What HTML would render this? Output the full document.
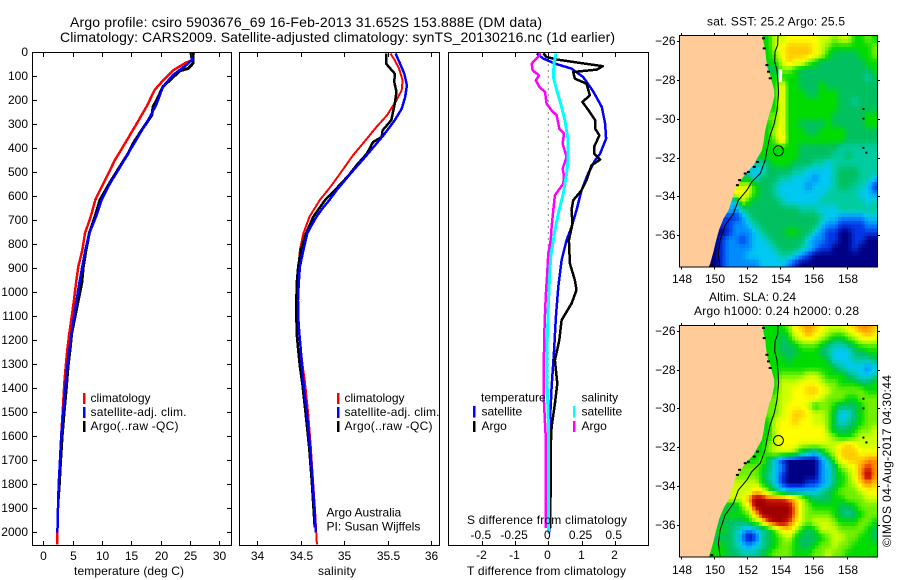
<!DOCTYPE html>
<html lang="en">
<head>
<meta charset="utf-8">
<title>Argo profile csiro 5903676_69</title>
<style>
html,body{margin:0;padding:0;background:#fff;}
svg{display:block;}
text{font-family:"Liberation Sans",Arial,sans-serif;font-size:12px;fill:#000;}
.t14{font-size:14px;}
</style>
</head>
<body>
<svg id="chart" xmlns="http://www.w3.org/2000/svg" width="900" height="580" viewBox="0 0 900 580">
  <defs>
    <clipPath id="clip-sst"><rect x="679.5" y="35.5" width="198" height="231.5"/></clipPath>
    <clipPath id="clip-sla"><rect x="679.5" y="325.5" width="198" height="231.5"/></clipPath>
    <clipPath id="clip-p1"><rect x="32.5" y="52.5" width="199" height="493"/></clipPath>
    <clipPath id="clip-p2"><rect x="239.5" y="52.5" width="200" height="493"/></clipPath>
    <clipPath id="clip-p3"><rect x="448.5" y="52.5" width="200" height="493"/></clipPath>
  </defs>
  <rect x="0" y="0" width="900" height="580" fill="#fff"/>

  <text class="t14" x="70" y="27" textLength="472">Argo profile: csiro 5903676_69 16-Feb-2013 31.652S 153.888E (DM data)</text>
  <text class="t14" x="60" y="42" textLength="555">Climatology: CARS2009. Satellite-adjusted climatology: synTS_20130216.nc (1d earlier)</text>

  <g id="maps"></g>
  <g id="profiles"></g>
  <g id="axes"></g>

  <text x="74" y="575" textLength="110">temperature (deg C)</text>
  <text x="318" y="575" textLength="38">salinity</text>
  <text x="467" y="575" textLength="159">T difference from climatology</text>
  <text x="467" y="524" textLength="160">S difference from climatology</text>

  <g>
    <rect x="83" y="393" width="2.5" height="11" fill="#ff0000"/>
    <rect x="83" y="407" width="2.5" height="11" fill="#0000ff"/>
    <rect x="83" y="421" width="2.5" height="11" fill="#000"/>
    <text x="90.5" y="402">climatology</text>
    <text x="90.5" y="416" textLength="96">satellite-adj. clim.</text>
    <text x="90.5" y="430" textLength="88">Argo(..raw -QC)</text>
  </g>
  <g>
    <rect x="337" y="393" width="2.5" height="11" fill="#ff0000"/>
    <rect x="337" y="407" width="2.5" height="11" fill="#0000ff"/>
    <rect x="337" y="421" width="2.5" height="11" fill="#000"/>
    <text x="344.5" y="402">climatology</text>
    <text x="344.5" y="416" textLength="95">satellite-adj. clim.</text>
    <text x="344.5" y="430" textLength="88">Argo(..raw -QC)</text>
  </g>
  <g>
    <text x="481" y="401.5">temperature</text>
    <rect x="473" y="406" width="2.5" height="11.5" fill="#0000ff"/>
    <rect x="473" y="421" width="2.5" height="11" fill="#000"/>
    <text x="481.5" y="415.5">satellite</text>
    <text x="481.5" y="430">Argo</text>
    <text x="581.5" y="401.5">salinity</text>
    <rect x="573" y="406" width="2.5" height="11.5" fill="#00ffff"/>
    <rect x="573" y="421" width="2.5" height="11" fill="#ff00ff"/>
    <text x="581.5" y="415.5">satellite</text>
    <text x="581.5" y="430">Argo</text>
  </g>

  <text x="326.5" y="516.5">Argo Australia</text>
  <text x="326.5" y="530.5">PI: Susan Wijffels</text>

  <text x="707" y="25.5" textLength="138">sat. SST: 25.2  Argo: 25.5</text>
  <text x="709" y="301" textLength="87">Altim. SLA: 0.24</text>
  <text x="694" y="315" textLength="165">Argo h1000: 0.24 h2000: 0.28</text>
  <text transform="translate(891,547) rotate(-90)" x="0" y="0" textLength="172">©IMOS 04-Aug-2017 04:30:44</text>
</svg>

<script>
// ---------- profile data (depth in dbar, value in physical units) ----------
const tempClimDepth = [0,32,46,74,115,156,226,310,380,449,519,615,685,754,824,893,963,1032,1102,1171,1240,1310,1379,1500,1600,1700,1800,1900,2000,2050];
const tempClimValues = [25.7,25.3,24.1,22.2,20.5,19,17.6,15.6,13.9,12.2,10.8,8.86,8.07,7.1,6.65,5.97,5.57,5.23,4.83,4.43,4.09,3.81,3.58,3.3,3.05,2.85,2.62,2.5,2.4,2.35];
const tempSatDepth = [0,32,53,95,143,215,268,337,420,490,545,615,685,754,824,893,963,1032,1102,1171,1240,1310,1379,1500,1600,1700,1800,1900,2000];
const tempSatValues = [25.1,25.3,24.4,22.1,20.4,19.3,18.2,16.5,14.5,12.8,11.4,9.94,8.98,7.84,7.16,6.65,6.14,5.68,5.23,4.83,4.43,4.09,3.81,3.4,3.07,2.85,2.62,2.5,2.4];
const tempArgoDepth = [0,46,67,77,108,143,201,226,261,323,380,420,490,545,615,685,754,824,893,963,1032,1102,1171,1240,1310,1379,1500,1600,1700,1800,1860];
const tempArgoValues = [25.5,25.5,24.7,23.3,21.9,20.4,19.3,18.7,18.5,16.8,15.3,14.5,12.7,11.3,9.66,8.81,7.84,7.27,6.82,6.54,5.97,5.4,4.83,4.55,4.2,3.98,3.55,3.2,2.95,2.72,2.55];

const salClimDepth = [5,33,68,117,158,200,263,311,360,429,506,561,615,685,754,824,900,1000,1100,1200,1300,1379,1504,1644,1783,1921,2050];
const salClimValues = [35.53,35.58,35.63,35.67,35.66,35.6,35.49,35.37,35.26,35.1,34.95,34.84,34.72,34.6,34.53,34.49,34.47,34.46,34.465,34.49,34.52,34.55,34.585,34.615,34.64,34.665,34.685];
const salSatDepth = [5,47,89,137,186,235,283,346,436,506,575,615,650,685,720,754,824,893,963,1032,1102,1171,1240,1310,1379,1504,1644,1783,1921,2000];
const salSatValues = [35.59,35.64,35.69,35.72,35.7,35.66,35.58,35.45,35.24,35.07,34.91,34.83,34.75,34.68,34.625,34.575,34.53,34.49,34.476,34.468,34.47,34.483,34.5,34.514,34.53,34.57,34.606,34.636,34.66,34.672];
const salArgoDepth = [5,47,89,124,165,214,283,325,353,374,422,471,513,575,615,685,754,824,893,963,1032,1102,1171,1240,1310,1379,1504,1644,1783,1921,1980];
const salArgoValues = [35.48,35.48,35.58,35.575,35.6,35.58,35.54,35.44,35.43,35.33,35.26,35.14,35.05,34.89,34.78,34.644,34.56,34.5,34.47,34.453,34.449,34.449,34.453,34.47,34.49,34.517,34.555,34.595,34.625,34.65,34.66];

const dTSatDepth = [5,26,47,68,103,165,228,297,360,422,450,506,575,658,728,783,866,977,1102,1255,1394,1533,1616,1833,2000];
const dTSatValues = [-.35,-.15,.2,.7,1.05,1.36,1.61,1.71,1.74,1.56,1.41,1.2,1,.85,.7,.55,.4,.3,.23,.17,.1,.05,.05,.05,.03];
const dTArgoDepth = [5,19,30,44,58,72,82,110,131,179,207,249,283,318,346,394,422,447,471,533,575,617,658,714,783,880,950,991,1047,1116,1200,1283,1380,1464,1561,1616,1833,1985];
const dTArgoValues = [-.15,-.05,.25,.95,1.64,1.46,.75,.8,1.15,1.25,1.03,1.25,1.41,1.41,1.54,1.38,1.38,1.56,1.3,1.15,1,.75,.7,.73,.62,.65,.8,.85,.7,.4,.33,.2,.27,.2,.1,.08,.07,.05];
const dSSatDepth = [5,47,103,158,214,283,367,436,506,589,672,742,783,852,950,1061,1200,1394,1533,1616,2000];
const dSSatValues = [.058,.043,.038,.063,.093,.125,.15,.15,.138,.113,.075,.05,.038,.018,.008,0,-.008,-.008,0,.003,.003];
const dSArgoDepth = [5,26,47,75,96,117,144,165,214,242,263,318,339,381,436,485,512,547,596,658,728,783,838,922,1005,1130,1269,1450,1561,1616,1983];
const dSArgoValues = [-.058,-.088,-.125,-.118,-.07,-.093,-.068,-.025,-.013,.025,.063,.083,.118,.108,.138,.108,.118,.113,.05,.038,.025,.018,0,-.008,-.018,-.028,-.033,-.033,-.023,-.018,-.018];

// ---------- tick values and labels ----------
const depthTicks = [0,100,200,300,400,500,600,700,800,900,1000,1100,1200,1300,1400,1500,1600,1700,1800,1900,2000];
const tempTicks = [0,5,10,15,20,25,30];
const salTicks = [34,34.5,35,35.5,36];
const dTTicks = [-2,-1,0,1,2];
const dSTickLabels = ["-0.5","-0.25","0","0.25","0.5"];
const dSTicks = [-0.5,-0.25,0,0.25,0.5];
const lonTicks = [148,150,152,154,156,158];
const latTicks = [-26,-28,-30,-32,-34,-36];

// ---------- gridded map fields, one hex digit per 0.4 degree cell, right-aligned to the east edge ----------
const sstRows = [
"68899999887886676","689aaaa9876666667","679aaaa9865555667","668a9976555555566",
"5776555555555556","6666555555555545","6966555655555555","6966655666555555",
"6966666666554555","6966666666555555","7966666665555566","67966555565555566",
"68966655666655555","67a66666666655555","666666555555444444","666666555554454444",
"4456665554434444444","3355554433334555444","53555443332334555443","886554333323334554431",
"986554333333344444332","3865555433333444444434","32455555555444333444444","11245555555555433222233",
"112234555555555322111122","012223455566553211001111","0122123345555532211001100","0122223334555432110001000",
"0122233333443210000000000","0122222333321000000000000"];
const slaRows = [
"66679aba98889abba","665689a98766789a9","6556777654456777","6555666543335566",
"6656666653334445","6666666665433323","6777788766654334","6888999877666556",
"68899aa987777766","7889999877766777","7899986776555677","789aa98875335677",
"6899a998875345677","68999999975556778","68999999987667888","6789998888889a9888",
"678887543578aaa999","67531000002479aaabb","7653200000235789bcb","7643100000235679bdb",
"8653100011235678aba","8a975433333456777899","8bddcccba865556677788","579ddddddb876666556777",
"6667adddddb877776545677","555679cddca878887666776","6543234579a8656888777765","554201456786555678877665",
"654323456776556778776666","655444567776667787766666"];
const mapPaletteRgb = [[0,0,135],[0,56,232],[0,140,255],[0,200,240],[0,204,160],[0,192,96],[0,220,0],[112,240,0],[204,255,0],[255,255,0],[255,204,0],[255,144,0],[216,32,0],[160,0,0]];

const coastLon = [152.93,152.99,153.09,153.15,153.23,153.39,153.49,153.64,153.64,153.49,153.29,153.09,152.99,152.89,152.59,152.38,151.98,151.68,151.27,151.07,150.87,150.57,150.32,150.12,149.96,149.76,149.66];
const coastLat = [-25.7,-26.12,-26.46,-26.98,-27.41,-27.75,-28.1,-28.53,-28.84,-29.38,-29.9,-30.59,-31.19,-31.62,-32.05,-32.39,-32.74,-33.08,-33.59,-34.2,-34.71,-35.14,-35.66,-36.26,-36.86,-37.46,-37.65];
const isobathLon = [153.86,153.84,153.68,153.66,153.8,153.86,153.9,153.8,153.64,153.39,153.19,153.09,152.79,152.28,151.98,151.47,151.17,150.67,150.36,150.26,150.36];
const isobathLat = [-25.7,-26.2,-26.55,-27.07,-27.5,-28.1,-28.7,-29.56,-30.24,-30.85,-31.62,-32.13,-32.82,-33.25,-33.68,-34.2,-34.88,-35.48,-36.26,-36.94,-37.65];
const rockyCoastLon = [152.99,153.03,153.19,153.29,153.39,152.63,152.42,152.08,151.88,151.54,151.41,149.86];
const rockyCoastLat = [-25.86,-26.38,-27.24,-27.58,-27.92,-32.22,-32.48,-32.74,-32.82,-33.16,-33.42,-37.55];
const islandLon = [159.02,159.02,159.02,159.2];
const islandLat = [-29.5,-30,-31.5,-31.75];
const profileLon = 153.888;
const profileLat = -31.652;

// ---------- axis functions ----------
const yDepth = d => 52.3 + d * 0.24;
const xTemp = t => 43.3 + t * 5.87;
const xSal = s => 257.3 + (s - 34) * 87;
const xDT = v => 548.3 + v * 33.2;
const xDS = v => 548.3 + v * 132.8;
const xLon = lon => 681 + (lon - 148) * 16.55;
const ySst = lat => 41 + (-26 - lat) * 19.43;
const ySla = lat => 330.7 + (-26 - lat) * 19.43;

const NS = "http://www.w3.org/2000/svg";
function make(tag, parent, attrs) {
  const el = document.createElementNS(NS, tag);
  for (const k in attrs) el.setAttribute(k, attrs[k]);
  parent.appendChild(el);
  return el;
}
const profiles = document.getElementById("profiles");
const axes = document.getElementById("axes");
const maps = document.getElementById("maps");

// ---------- profile lines ----------
function drawLine(depths, values, xFn, color, width, clip, name) {
  const pts = depths.map((d, i) => xFn(values[i]).toFixed(1) + "," + yDepth(d).toFixed(1)).join(" ");
  const el = make("polyline", profiles, {points: pts, fill: "none", stroke: color, "stroke-width": width, "stroke-linejoin": "round", "shape-rendering": "crispEdges", "clip-path": "url(#" + clip + ")"});
  
  
}
const zeroLine = make("line", profiles, {x1: xDT(0), x2: xDT(0), y1: 52.5, y2: 545, stroke: "#000", "stroke-width": 1, "stroke-dasharray": "1 5"});



drawLine(tempClimDepth, tempClimValues, xTemp, "#ff0000", 2.5, "clip-p1", "temperature-climatology-line");
drawLine(tempArgoDepth, tempArgoValues, xTemp, "#000000", 3, "clip-p1", "temperature-argo-line");
drawLine(tempSatDepth, tempSatValues, xTemp, "#0000ff", 2.5, "clip-p1", "temperature-satellite-line");
drawLine(salClimDepth, salClimValues, xSal, "#ff0000", 2, "clip-p2", "salinity-climatology-line");
drawLine(salArgoDepth, salArgoValues, xSal, "#000000", 2.5, "clip-p2", "salinity-argo-line");
drawLine(salSatDepth, salSatValues, xSal, "#0000ff", 2.5, "clip-p2", "salinity-satellite-line");
drawLine(dTSatDepth, dTSatValues, xDT, "#0000ff", 2.5, "clip-p3", "t-difference-satellite-line");
drawLine(dTArgoDepth, dTArgoValues, xDT, "#000000", 2.5, "clip-p3", "t-difference-argo-line");
drawLine(dSArgoDepth, dSArgoValues, xDS, "#ff00ff", 2.5, "clip-p3", "s-difference-argo-line");
drawLine(dSSatDepth, dSSatValues, xDS, "#00ffff", 3, "clip-p3", "s-difference-satellite-line");

// ---------- axes ----------
function frame(x, y, w, h, name) {
  const el = make("rect", axes, {x: x, y: y, width: w, height: h, fill: "none", stroke: "#000", "stroke-width": 1, "shape-rendering": "crispEdges"});
  
  
}
function tick(x1, y1, x2, y2, name) {
  const el = make("line", axes, {x1: x1, y1: y1, x2: x2, y2: y2, stroke: "#000", "stroke-width": 1, "shape-rendering": "crispEdges"});
  
  
}
function label(x, y, str, anchor, name) {
  const el = make("text", axes, {x: x, y: y, "text-anchor": anchor});
  el.textContent = str;
  
  
}
frame(32.5, 52.5, 199, 493, "temperature-panel-frame");
frame(239.5, 52.5, 200, 493, "salinity-panel-frame");
frame(448.5, 52.5, 200, 493, "difference-panel-frame");

depthTicks.forEach(d => {
  const y = Math.round(yDepth(d)) + 0.5;
  tick(32.5, y, 37, y, "depth-tick-left");
  tick(227, y, 231.5, y, "depth-tick-right");
  label(28, y + 3.5, String(d), "end", "depth-tick-label");
});
tempTicks.forEach(t => {
  const x = Math.round(xTemp(t)) + 0.5;
  tick(x, 52.5, x, 57, "temperature-tick-top");
  tick(x, 541, x, 545.5, "temperature-tick-bottom");
  label(x, 560, String(t), "middle", "temperature-tick-label");
});
salTicks.forEach(s => {
  const x = Math.round(xSal(s)) + 0.5;
  tick(x, 52.5, x, 57, "salinity-tick-top");
  tick(x, 541, x, 545.5, "salinity-tick-bottom");
  label(x, 560, String(s), "middle", "salinity-tick-label");
});
dTTicks.forEach(v => {
  const x = Math.round(xDT(v)) + 0.5;
  tick(x, 52.5, x, 57, "t-difference-tick-top");
  tick(x, 541, x, 545.5, "t-difference-tick-bottom");
  label(x - 1, 559, String(v), "middle", "t-difference-tick-label");
});
dSTicks.forEach((v, i) => {
  label(xDS(v) - 1, 539, dSTickLabels[i], "middle", "s-difference-tick-label");
});

// ---------- maps ----------
function fieldGrid(rows) {
  return rows.map(row => {
    return row.padStart(30, row[0]).split("").map(ch => parseInt(ch, 16));
  });
}
function sampleField(grid, u, v) {
  const c0 = Math.max(0, Math.min(29, Math.floor(u)));
  const c1 = Math.min(29, c0 + 1);
  const r0 = Math.max(0, Math.min(29, Math.floor(v)));
  const r1 = Math.min(29, r0 + 1);
  const fu = Math.max(0, Math.min(1, u - c0));
  const fv = Math.max(0, Math.min(1, v - r0));
  const top = grid[r0][c0] * (1 - fu) + grid[r0][c1] * fu;
  const bot = grid[r1][c0] * (1 - fu) + grid[r1][c1] * fu;
  return top * (1 - fv) + bot * fv;
}
function colorFor(value) {
  const i = Math.max(0, Math.min(12, Math.floor(value)));
  const f = Math.max(0, Math.min(1, value - i));
  const a = mapPaletteRgb[i];
  const b = mapPaletteRgb[i + 1];
  return "rgb(" + a.map((ch, k) => Math.round(ch + (b[k] - ch) * f)).join(",") + ")";
}
function drawMap(rows, yFn, top, clip, prefix) {
  const g = make("g", maps, {"clip-path": "url(#" + clip + ")"});
  
  
  const grid = fieldGrid(rows);
  for (let sr = 0; sr < 60; sr++) {
    for (let sc = 0; sc < 60; sc++) {
      const lon0 = 147.9 + 0.2 * sc;
      const lat0 = -25.7 - 0.199 * sr;
      const x0 = xLon(lon0);
      const y0 = yFn(lat0);
      const value = sampleField(grid, (sc + 0.5) / 2 - 0.5, (sr + 0.5) / 2 - 0.5);
      const cell = make("rect", g, {x: x0.toFixed(2), y: y0.toFixed(2), width: (xLon(lon0 + 0.2) - x0 + 0.4).toFixed(2), height: (yFn(lat0 - 0.199) - y0 + 0.4).toFixed(2), fill: colorFor(value), "shape-rendering": "crispEdges"});
      
      
    }
  }
  const pts = coastLon.map((lon, i) => xLon(lon).toFixed(1) + "," + yFn(coastLat[i]).toFixed(1));
  const landPts = pts.concat([xLon(147) + "," + yFn(-37.65), xLon(147) + "," + yFn(-25.7)]).join(" ");
  const land = make("polygon", g, {points: landPts, fill: "#ffcc99", stroke: "none"});
  
  
  rockyCoastLon.forEach((lon, i) => {
    const fleck = make("rect", g, {x: (xLon(lon) - 1.5).toFixed(1), y: (yFn(rockyCoastLat[i]) - 1).toFixed(1), width: 3, height: 2, fill: "#000"});
    
    
  });
  const isoPts = isobathLon.map((lon, i) => xLon(lon).toFixed(1) + "," + yFn(isobathLat[i]).toFixed(1)).join(" ");
  const iso = make("polyline", g, {points: isoPts, fill: "none", stroke: "#000", "stroke-width": 1});
  
  
  islandLon.forEach((lon, i) => {
    const isl = make("rect", g, {x: (xLon(lon) - 1).toFixed(1), y: (yFn(islandLat[i]) - 1).toFixed(1), width: 2, height: 2, fill: "#000"});
    
    
  });
  const ring = make("circle", g, {cx: xLon(profileLon).toFixed(1), cy: yFn(profileLat).toFixed(1), r: 5, fill: "none", stroke: "#000", "stroke-width": 1});
  
  

  frame(679.5, top, 198, 231.5, prefix + "-map-frame");
  lonTicks.forEach(lon => {
    const x = Math.round(xLon(lon)) + 0.5;
    tick(x, top - 2.5, x, top, prefix + "-lon-tick-top");
    tick(x, top + 231.5, x, top + 234, prefix + "-lon-tick-bottom");
    label(x + 0.5, top + (top < 100 ? 247.5 : 248.5), String(lon), "middle", prefix + "-lon-tick-label");
  });
  latTicks.forEach(lat => {
    const y = Math.round(yFn(lat)) + 0.5;
    tick(677, y, 679.5, y, prefix + "-lat-tick-left");
    tick(877.5, y, 880, y, prefix + "-lat-tick-right");
    label(675.5, y + 3.5, "\u2212" + Math.abs(lat), "end", prefix + "-lat-tick-label");
  });
}
drawMap(sstRows, ySst, 35.5, "clip-sst", "sst");
drawMap(slaRows, ySla, 325.5, "clip-sla", "sla");

const sstGap = make("rect", maps, {x: xLon(153.9).toFixed(1), y: ySst(-27.46).toFixed(1), width: 3.5, height: 12.5, fill: "#fff"});


</script>
</body>
</html>
